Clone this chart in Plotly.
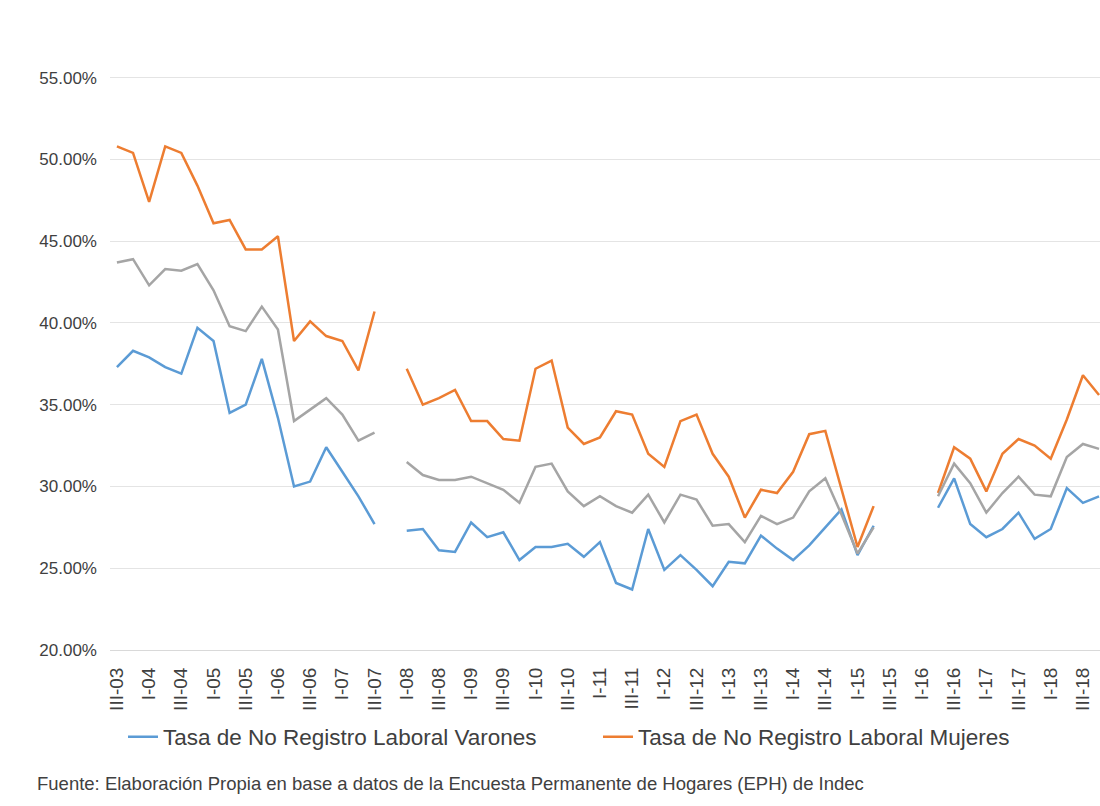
import plotly.graph_objects as go

categories = [
    "III-03", "IV-03",
    "I-04", "II-04", "III-04", "IV-04",
    "I-05", "II-05", "III-05", "IV-05",
    "I-06", "II-06", "III-06", "IV-06",
    "I-07", "II-07", "III-07", "IV-07",
    "I-08", "II-08", "III-08", "IV-08",
    "I-09", "II-09", "III-09", "IV-09",
    "I-10", "II-10", "III-10", "IV-10",
    "I-11", "II-11", "III-11", "IV-11",
    "I-12", "II-12", "III-12", "IV-12",
    "I-13", "II-13", "III-13", "IV-13",
    "I-14", "II-14", "III-14", "IV-14",
    "I-15", "II-15", "III-15", "IV-15",
    "I-16", "II-16", "III-16", "IV-16",
    "I-17", "II-17", "III-17", "IV-17",
    "I-18", "II-18", "III-18", "IV-18",
]

varones = [
    37.3, 38.3, 37.9, 37.3, 36.9, 39.7, 38.9, 34.5, 35.0, 37.8, 34.2, 30.0, 30.3, 32.4, 30.9, 29.4, 27.7, None,
    27.3, 27.4, 26.1, 26.0, 27.8, 26.9, 27.2, 25.5, 26.3, 26.3, 26.5, 25.7, 26.6, 24.1, 23.7, 27.4, 24.9, 25.8,
    24.9, 23.9, 25.4, 25.3, 27.0, 26.2, 25.5, 26.4, 27.5, 28.6, 25.8, 27.6, None, None, None,
    28.7, 30.5, 27.7, 26.9, 27.4, 28.4, 26.8, 27.4, 29.9, 29.0, 29.4,
]

mujeres = [
    50.8, 50.4, 47.4, 50.8, 50.4, 48.4, 46.1, 46.3, 44.5, 44.5, 45.3, 38.9, 40.1, 39.2, 38.9, 37.1, 40.7, None,
    37.2, 35.0, 35.4, 35.9, 34.0, 34.0, 32.9, 32.8, 37.2, 37.7, 33.6, 32.6, 33.0, 34.6, 34.4, 32.0, 31.2, 34.0,
    34.4, 32.0, 30.6, 28.1, 29.8, 29.6, 30.9, 33.2, 33.4, 29.9, 26.3, 28.8, None, None, None,
    29.6, 32.4, 31.7, 29.7, 32.0, 32.9, 32.5, 31.7, 34.1, 36.8, 35.6,
]

total = [
    43.7, 43.9, 42.3, 43.3, 43.2, 43.6, 42.0, 39.8, 39.5, 41.0, 39.6, 34.0, 34.7, 35.4, 34.4, 32.8, 33.3, None,
    31.5, 30.7, 30.4, 30.4, 30.6, 30.2, 29.8, 29.0, 31.2, 31.4, 29.7, 28.8, 29.4, 28.8, 28.4, 29.5, 27.8, 29.5,
    29.2, 27.6, 27.7, 26.6, 28.2, 27.7, 28.1, 29.7, 30.5, 28.3, 25.9, 27.5, None, None, None,
    29.4, 31.4, 30.2, 28.4, 29.6, 30.6, 29.5, 29.4, 31.8, 32.6, 32.3,
]

y_ticks = [20, 25, 30, 35, 40, 45, 50, 55]
y_tick_labels = ["20.00%", "25.00%", "30.00%", "35.00%", "40.00%", "45.00%", "50.00%", "55.00%"]

FONT = "Liberation Sans, Arial, sans-serif"
TEXT = "#404040"

fig = go.Figure()
fig.add_trace(go.Scatter(x=categories, y=varones, mode="lines",
                         name="Tasa de No Registro Laboral Varones",
                         line=dict(color="#5B9BD5", width=2.5), connectgaps=False))
fig.add_trace(go.Scatter(x=categories, y=mujeres, mode="lines",
                         name="Tasa de No Registro Laboral Mujeres",
                         line=dict(color="#ED7D31", width=2.5), connectgaps=False))
fig.add_trace(go.Scatter(x=categories, y=total, mode="lines",
                         name="Total", showlegend=False,
                         line=dict(color="#A5A5A5", width=2.5), connectgaps=False))

fig.update_layout(
    width=1100, height=806,
    margin=dict(l=110, r=0, t=45, b=156),
    paper_bgcolor="white", plot_bgcolor="white",
    font=dict(family=FONT, color=TEXT),
    showlegend=True,
    legend=dict(orientation="h", xref="container", yref="container",
                x=123 / 1100, xanchor="left", y=1 - 737 / 806, yanchor="middle",
                font=dict(size=22.5, color=TEXT), itemwidth=30, entrywidth=430,
                bgcolor="rgba(0,0,0,0)"),
    xaxis=dict(type="category", range=[-0.43, 61.06],
               tickmode="array", tickvals=categories[::2], ticktext=categories[::2],
               tickangle=-90, tickfont=dict(size=19, color=TEXT),
               ticklabelstandoff=9,
               showgrid=False, showline=True, linecolor="#D9D9D9", linewidth=1,
               ticks="", zeroline=False),
    yaxis=dict(range=[20, 57], tickmode="array", tickvals=y_ticks, ticktext=y_tick_labels,
               tickfont=dict(size=17, color=TEXT), ticklabelstandoff=12,
               showgrid=True, gridcolor="#E4E4E4", gridwidth=1,
               showline=False, zeroline=False, ticks=""),
    annotations=[dict(
        text="Fuente: Elaboración Propia en base a datos de la Encuesta Permanente de Hogares (EPH) de Indec",
        xref="paper", yref="paper", x=-0.0758, y=-0.22, xanchor="left", yanchor="middle",
        showarrow=False, font=dict(size=18.5, color=TEXT))],
)

fig.write_html("out.html", config={"displayModeBar": False},
               post_script="document.body.style.margin='0px';")
